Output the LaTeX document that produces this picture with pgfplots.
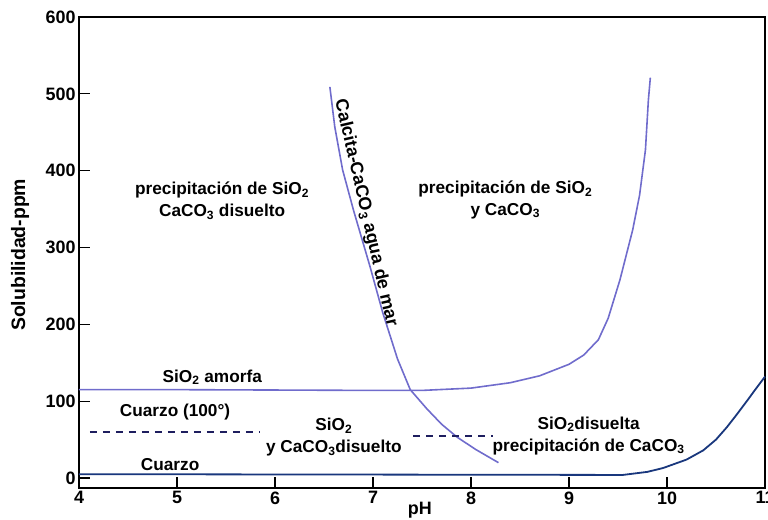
\documentclass[border=0pt]{standalone}
\usepackage{fontspec}
\setmainfont{Liberation Sans}
\usepackage{pgfplots}
\pgfplotsset{compat=1.18}
\definecolor{lav}{RGB}{112,108,204}
\definecolor{qblue}{RGB}{25,55,125}
\definecolor{dnavy}{RGB}{30,30,95}
\newcommand{\lbl}{\fontsize{17.3}{22}\selectfont\bfseries}
\begin{document}
\begin{tikzpicture}
\begin{axis}[
  scale only axis, width=686bp, height=471bp,
  xmin=4, xmax=11, ymin=-13, ymax=600,
  xtick={4,5,6,7,8,9,10,11}, ytick={0,100,200,300,400,500,600},
  axis line style={line width=1.6bp},
  tick style={black, line width=1.1bp},
  major tick length=11bp,
  xtick pos=bottom, ytick pos=left, tick align=inside,
  ticklabel style={font=\fontsize{18}{18}\selectfont\bfseries},
  /pgf/number format/assume math mode=true,
  clip=false,
]
\addplot[lav, line width=1.6bp] coordinates {
(4,115) (5,115) (6,114.5) (7,114) (7.5,114) (8,117) (8.4,124) (8.7,133) (9.0,148) (9.15,160) (9.3,180) (9.4,208) (9.52,258) (9.65,323) (9.72,368) (9.78,427) (9.81,492) (9.83,521)};
\addplot[lav, line width=1.6bp] coordinates {
(6.56,509) (6.61,457) (6.69,401) (6.80,349) (6.97,275) (7.10,215) (7.25,155) (7.38,115) (7.55,90) (7.7,70) (7.86,53) (8.05,37) (8.28,20)};
\addplot[qblue, line width=1.8bp] coordinates {
(4,5) (9.55,4) (9.8,8) (9.96,13) (10.2,24) (10.37,36) (10.5,50) (10.61,66) (10.72,84) (10.82,101) (10.9,115) (11,132)};
\addplot[dnavy, line width=2bp, dash pattern=on 7bp off 6bp] coordinates {(4.11,60) (5.85,60)};
\addplot[dnavy, line width=2bp, dash pattern=on 7bp off 6bp] coordinates {(7.41,55) (8.22,55)};

\node[font=\lbl, align=center] at (axis cs:5.46,361) {precipitación de SiO\textsubscript{2}\\CaCO\textsubscript{3} disuelto};
\node[font=\lbl, align=center] at (axis cs:8.35,362) {precipitación de SiO\textsubscript{2}\\y CaCO\textsubscript{3}};
\node[font=\lbl] at (axis cs:5.36,131) {SiO\textsubscript{2} amorfa};
\node[font=\lbl] at (axis cs:4.98,86) {Cuarzo (100°)};
\node[font=\lbl] at (axis cs:4.93,17) {Cuarzo};
\node[font=\lbl, align=center] at (axis cs:6.60,53) {SiO\textsubscript{2}\\y CaCO\textsubscript{3}disuelto};
\node[font=\lbl, align=center] at (axis cs:9.20,55) {SiO\textsubscript{2}disuelta\\precipitación de CaCO\textsubscript{3}};
\node[font=\fontsize{18}{18}\selectfont\bfseries, rotate=-77, anchor=south, inner sep=1bp] at (axis cs:6.83,342) {Calcita-CaCO\textsubscript{3} agua de mar};
\node[font=\fontsize{18}{18}\selectfont\bfseries] at (axis description cs:0.497,-0.047) {pH};
\node[font=\fontsize{19.5}{19.5}\selectfont\bfseries, rotate=90] at (axis description cs:-0.086,0.495) {Solubilidad-ppm};
\end{axis}
\pgfresetboundingbox
\path (current axis.south west) ++(-79bp,-32bp) rectangle ++(768bp,520bp);
\end{tikzpicture}
\end{document}
